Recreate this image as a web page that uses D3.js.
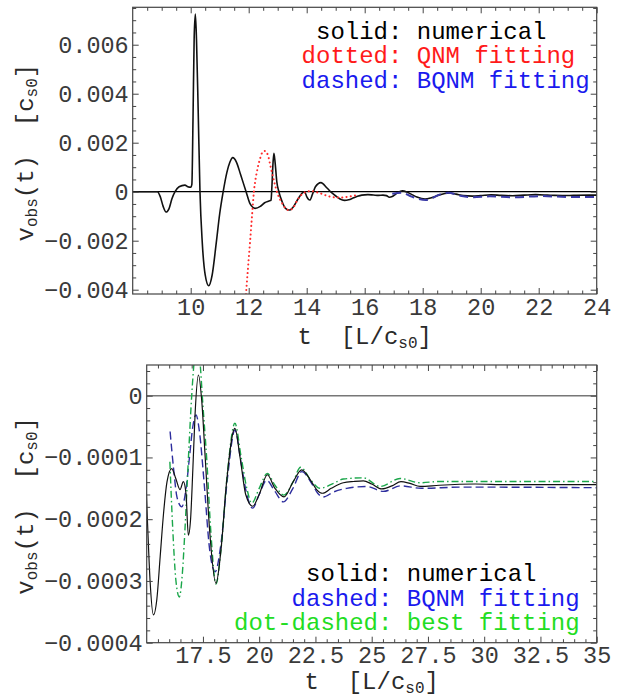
<!DOCTYPE html>
<html>
<head>
<meta charset="utf-8">
<script src="https://cdn.jsdelivr.net/npm/d3@7"></script>
<style>
  html, body { margin: 0; padding: 0; background: #fff; }
  svg { display: block; }
  text { font-family: "Liberation Mono", "Courier New", monospace; }
</style>
</head>
<body>
<svg id="chart" width="621" height="698"></svg>
<script>
// ---- numerical solution v_obs(t) (shared by both panels) ----
const numericalT = [8.0, 8.85, 8.95, 9.05, 9.15, 9.25, 9.35, 9.46, 9.6, 9.8, 9.9, 10.0,
  10.04, 10.08, 10.12, 10.16, 10.2, 10.26, 10.32, 10.4, 10.5, 10.62, 10.74, 10.88, 11.0,
  11.12, 11.25, 11.35, 11.45, 11.58, 11.72, 11.91, 12.05, 12.22, 12.4, 12.55, 12.7, 12.77,
  12.8, 12.84, 12.87, 12.91, 12.97, 13.04, 13.15, 13.27, 13.4, 13.55, 13.7, 13.85, 13.93,
  14.0, 14.11, 14.2, 14.3, 14.49, 14.7, 14.85, 15.03, 15.15, 15.3, 15.45, 15.6, 15.75, 15.9,
  16.11, 16.3, 16.48, 16.63, 16.75, 16.85, 16.95, 17.05, 17.15, 17.3, 17.45, 17.6, 17.8,
  18.08, 18.3, 18.55, 18.92, 19.15, 19.4, 19.71, 20.0, 20.36, 20.7, 21.1, 21.5, 21.89,
  22.3, 22.55, 22.82, 23.2, 23.74, 24.2, 24.63, 25.0, 25.45, 25.9, 26.3, 26.7, 27.15, 28.0, 29.6, 31.0,
  33.0, 35.0];
const numericalV = [0, 0, -0.0002, -0.0006, -0.00083, -0.0007, -0.0003, 0, 0.0002, 0.00027, 0.0002, 0.00018,
  0.0003, 0.003, 0.0063, 0.00725, 0.0062, 0.0032, 0, -0.0021, -0.0034, -0.00384, -0.0034, -0.0021, -0.0009,
  0, 0.0008, 0.0012, 0.00139, 0.0012, 0.0007, 0, -0.0005, -0.00068, -0.0006, -0.00045, -0.00038, -0.00035,
  0.0002, 0.0012, 0.00157, 0.0012, 0.0004, 0, -0.0004, -0.00068, -0.00075, -0.0006, -0.0003, -0.00005, 0,
  -0.0002, -0.00034, -0.0001, 0.0002, 0.00037, 0.00015, -0.00003, -0.0002, -0.0003, -0.000355, -0.00033, -0.00026, -0.00019, -0.00014,
  -0.000118, -0.000135, -0.000152, -0.000139, -0.00016, -0.000226, -0.0002, -0.00012, -0.00003, 0.0000335, -0.00001, -0.0001, -0.00022,
  -0.000304, -0.00025, -0.00014, -0.000053, -0.0001, -0.00016, -0.000179, -0.00016, -0.000128, -0.00015, -0.000164, -0.00014, -0.00012,
  -0.000138, -0.000152, -0.000158, -0.00015, -0.000141, -0.000139, -0.000138, -0.000143, -0.000151, -0.000146, -0.000139, -0.000142, -0.000147, -0.000145, -0.000143, -0.000144,
  -0.000144, -0.000144];

// ---- QNM fitting (upper panel, dotted) ----
const qnmT = [11.82, 11.88, 11.97, 12.05, 12.12, 12.18, 12.28, 12.38, 12.47, 12.56, 12.66, 12.76,
  12.88, 13.0, 13.12, 13.25, 13.4, 13.55, 13.7, 13.9, 14.15, 14.45, 14.8, 15.1, 15.4, 15.8];
const qnmV = [-0.0056, -0.0046, -0.0032, -0.002, -0.0009, 0, 0.0008, 0.0013, 0.0016, 0.00166, 0.0015, 0.001,
  0.0004, -0.0001, -0.0004, -0.00065, -0.00076, -0.00062, -0.0003, -0.00005, 0.00003, -0.00006, -0.0002, -0.00024, -0.00021, -0.00012];

// ---- BQNM fitting (upper panel, dashed) ----
const bqnmTopT = [16.95, 17.28, 17.62, 18.11, 18.6, 18.88, 19.29, 19.75, 20.32, 21.13, 22.06, 23.2, 24.0];
const bqnmTopV = [-0.00008, -0.00004, -0.0002, -0.00034, -0.00011, -0.00004, -0.00016, -0.00023, -0.00019, -0.00023, -0.00018, -0.00022, -0.00021];

// ---- BQNM fitting (lower panel, dashed) ----
const bqnmT = [16.04, 16.2, 16.35, 16.56, 16.75, 16.9, 17.05, 17.19, 17.35, 17.55, 17.8, 18.04, 18.3, 18.6,
  18.92, 19.2, 19.45, 19.71, 20.0, 20.33, 20.7, 21.07, 21.5, 21.89, 22.35, 22.6, 22.85, 23.3, 23.89, 24.78,
  25.52, 26.3, 27.2, 29.0, 35.0];
const bqnmV = [-0.000058, -0.00012, -0.000165, -0.00018, -0.00015, -0.0001, -0.00005, -0.000031, -0.00006, -0.00014, -0.00025, -0.000285, -0.00024, -0.00013,
  -0.0000556, -0.00011, -0.00016, -0.000182, -0.00016, -0.000137, -0.000155, -0.000172, -0.00015, -0.000123, -0.000143, -0.000158, -0.000164, -0.000156, -0.00015, -0.000147,
  -0.000155, -0.000146, -0.00015, -0.000148, -0.000149];

// ---- best fitting (lower panel, dot-dashed) ----
const bestT = [16.03, 16.15, 16.3, 16.45, 16.58, 16.7, 16.85, 17.0, 17.12, 17.26, 17.4, 17.47, 17.67, 17.85,
  18.08, 18.3, 18.6, 18.92, 19.2, 19.45, 19.67, 20.0, 20.36, 20.7, 21.1, 21.5, 21.84, 22.3, 22.7,
  23.3, 23.74, 24.63, 25.37, 26.26, 27.15, 28.0, 35.0];
const bestV = [-0.000107, -0.00021, -0.0003, -0.000326, -0.00029, -0.000217, -0.000104, 0, 0.00006, 0.00009, 0.00004, 0, -0.000104, -0.00022,
  -0.000305, -0.00025, -0.00012, -0.0000447, -0.0001, -0.00015, -0.000174, -0.00015, -0.000126, -0.000145, -0.000161, -0.00014, -0.000116, -0.000137, -0.00015,
  -0.000142, -0.000135, -0.000133, -0.000147, -0.000134, -0.000141, -0.000139, -0.000139];

// ---- tick values and labels ----
const topXTicks = [10, 12, 14, 16, 18, 20, 22, 24];
const topXLabels = ["10", "12", "14", "16", "18", "20", "22", "24"];
const topYTicks = [0.006, 0.004, 0.002, 0, -0.002, -0.004];
const topYLabels = ["0.006", "0.004", "0.002", "0", "\u22120.002", "\u22120.004"];
const botXTicks = [17.5, 20, 22.5, 25, 27.5, 30, 32.5, 35];
const botXLabels = ["17.5", "20", "22.5", "25", "27.5", "30", "32.5", "35"];
const botYTicks = [0, -0.0001, -0.0002, -0.0003, -0.0004];
const botYLabels = ["0", "\u22120.0001", "\u22120.0002", "\u22120.0003", "\u22120.0004"];

const topLegend = [
  { text: "solid: numerical", color: "#000000" },
  { text: "dotted: QNM fitting", color: "#ff1a1a" },
  { text: "dashed: BQNM fitting", color: "#1a1aee" }
];
const botLegend = [
  { text: "solid: numerical", color: "#000000" },
  { text: "dashed: BQNM fitting", color: "#1a1aee" },
  { text: "dot-dashed: best fitting", color: "#22dd22" }
];

const svg = d3.select("#chart");
const zip = (ts, vs) => ts.map((t, i) => [t, vs[i]]);

function drawPanel(p) {
  const x = d3.scaleLinear().domain(p.xDomain).range([p.left, p.right]);
  const y = d3.scaleLinear().domain(p.yDomain).range([p.bottom, p.top]);
  const g = svg.append("g");

  const clipId = "clip-" + p.id;
  svg.append("defs").append("clipPath").attr("id", clipId)
    .append("rect").attr("x", p.left).attr("y", p.top)
    .attr("width", p.right - p.left).attr("height", p.bottom - p.top);

  // zero line
  g.append("line")
    .attr("x1", p.left).attr("x2", p.right)
    .attr("y1", y(0)).attr("y2", y(0))
    .attr("stroke", p.zeroColor).attr("stroke-width", p.zeroWidth);

  const plot = g.append("g").attr("clip-path", `url(#${clipId})`);
  const line = d3.line().x(d => x(d[0])).y(d => y(d[1])).curve(d3.curveMonotoneX);
  p.series.forEach(s => {
    plot.append("path")
      .attr("d", line(zip(s.t, s.v)))
      .attr("fill", "none")
      .attr("stroke", s.color)
      .attr("stroke-width", s.width)
      .attr("stroke-dasharray", s.dash || null)
      .attr("stroke-linecap", s.cap || "butt")
      .attr("stroke-linejoin", "round");
  });

  // frame ticks (inward), minor then major
  const tickStyle = sel => {
    sel.select(".domain").remove();
    sel.selectAll(".tick line").attr("stroke", "#444").attr("stroke-width", 1);
  };
  const noLabels = sel => sel.selectAll(".tick text").remove();

  const mk = (axisFn, scale, vals, size) => axisFn(scale).tickValues(vals).tickSize(-size).tickFormat("");

  [[p.xMinor, 3.5], [p.xTicks, 6]].forEach(([vals, sz]) => {
    g.append("g").attr("transform", `translate(0,${p.bottom})`)
      .call(mk(d3.axisBottom, x, vals, sz)).call(tickStyle).call(noLabels);
    g.append("g").attr("transform", `translate(0,${p.top})`)
      .call(mk(d3.axisTop, x, vals, sz)).call(tickStyle).call(noLabels);
  });
  [[p.yMinor, 3.5], [p.yTicks, 6]].forEach(([vals, sz]) => {
    g.append("g").attr("transform", `translate(${p.left},0)`)
      .call(mk(d3.axisLeft, y, vals, sz)).call(tickStyle).call(noLabels);
    g.append("g").attr("transform", `translate(${p.right},0)`)
      .call(mk(d3.axisRight, y, vals, sz)).call(tickStyle).call(noLabels);
  });

  // tick labels
  const xAxis = d3.axisBottom(x).tickValues(p.xTicks).tickSize(0).tickPadding(4)
    .tickFormat((d, i) => p.xLabels[i]);
  g.append("g").attr("transform", `translate(0,${p.bottom})`).call(xAxis)
    .call(sel => sel.select(".domain").remove())
    .selectAll("text").attr("font-family", null).attr("font-size", 23.5).attr("fill", "#3a3a3a");
  const yAxis = d3.axisLeft(y).tickValues(p.yTicks).tickSize(0).tickPadding(4)
    .tickFormat((d, i) => p.yLabels[i]);
  g.append("g").attr("transform", `translate(${p.left},0)`).call(yAxis)
    .call(sel => sel.select(".domain").remove())
    .selectAll("text").attr("font-family", null).attr("font-size", 23.5).attr("fill", "#3a3a3a");

  // frame
  g.append("rect")
    .attr("x", p.left).attr("y", p.top)
    .attr("width", p.right - p.left).attr("height", p.bottom - p.top)
    .attr("fill", "none").attr("stroke", "#444").attr("stroke-width", 1.2);

  // x axis title: t  [L/c_s0]
  const xt = g.append("text")
    .attr("x", (p.left + p.right) / 2 + p.xTitleShift).attr("y", p.xTitleY)
    .attr("text-anchor", "middle").attr("font-size", 24).attr("fill", "#2a2a2a")
    .attr("xml:space", "preserve");
  xt.append("tspan").text("t  [L/c");
  xt.append("tspan").attr("font-size", 16).attr("dy", 4).text("s0");
  xt.append("tspan").attr("dy", -4).text("]");

  // y axis title: v_obs(t)  [c_s0]
  const yt = g.append("text")
    .attr("transform", `translate(33,${(p.top + p.bottom) / 2 + p.yTitleShift}) rotate(-90)`)
    .attr("text-anchor", "middle").attr("font-size", 24).attr("fill", "#2a2a2a")
    .attr("xml:space", "preserve");
  yt.append("tspan").text("v");
  yt.append("tspan").attr("font-size", 16).attr("dy", 4).text("obs");
  yt.append("tspan").attr("dy", -4).text("(t)  [c");
  yt.append("tspan").attr("font-size", 16).attr("dy", 4).text("s0");
  yt.append("tspan").attr("dy", -4).text("]");

  // legend, aligned on the colon
  p.legend.forEach((l, i) => {
    const colon = l.text.indexOf(":");
    g.append("text")
      .attr("x", p.legendColonX - colon * 14.4).attr("y", p.legendY + i * p.legendStep)
      .attr("font-size", 24).attr("fill", l.color)
      .attr("xml:space", "preserve")
      .text(l.text);
  });
}

const range = (a, b, step) => d3.range(Math.round((b - a) / step) + 1).map(i => +(a + i * step).toFixed(8));

drawPanel({
  id: "top",
  left: 132.7, right: 596.7, top: 7.3, bottom: 294,
  xDomain: [8, 24], yDomain: [-0.004176, 0.007527],
  xTicks: topXTicks, xLabels: topXLabels,
  yTicks: topYTicks, yLabels: topYLabels,
  xMinor: range(8, 24, 0.5).filter(v => v % 2 !== 0),
  yMinor: range(-0.004, 0.0075, 0.0005).filter(v => Math.abs(Math.round(v / 0.002) * 0.002 - v) > 1e-9),
  zeroColor: "#000", zeroWidth: 1.2,
  xTitleY: 344, xTitleShift: 0, yTitleShift: 2,
  legend: topLegend, legendColonX: 388, legendY: 38.5, legendStep: 24.5,
  series: [
    { t: numericalT, v: numericalV, color: "#111", width: 1.6 },
    { t: qnmT, v: qnmV, color: "#ff2a2a", width: 2, dash: "0.1,4.2", cap: "round" },
    { t: bqnmTopT, v: bqnmTopV, color: "#3a3aa6", width: 2, dash: "9,5" }
  ]
});

drawPanel({
  id: "bottom",
  left: 146.7, right: 596.7, top: 365, bottom: 642.7,
  xDomain: [15, 35], yDomain: [-0.0004, 0.0000497],
  xTicks: botXTicks, xLabels: botXLabels,
  yTicks: botYTicks, yLabels: botYLabels,
  xMinor: range(15, 35, 0.5).filter(v => Math.abs(Math.round(v / 2.5) * 2.5 - v) > 1e-9),
  yMinor: range(-0.0004, 0.00004, 0.00002).filter(v => Math.abs(Math.round(v / 0.0001) * 0.0001 - v) > 1e-12),
  zeroColor: "#777", zeroWidth: 1.6,
  xTitleY: 689, xTitleShift: 0, yTitleShift: 2,
  legend: botLegend, legendColonX: 378, legendY: 581, legendStep: 24.5,
  series: [
    { t: bqnmT, v: bqnmV, color: "#2e2e9e", width: 1.4, dash: "8,4" },
    { t: bestT, v: bestV, color: "#1aa64a", width: 1.4, dash: "7,3,1.5,3" },
    { t: numericalT, v: numericalV, color: "#111", width: 1.2 }
  ]
});
</script>
</body>
</html>
